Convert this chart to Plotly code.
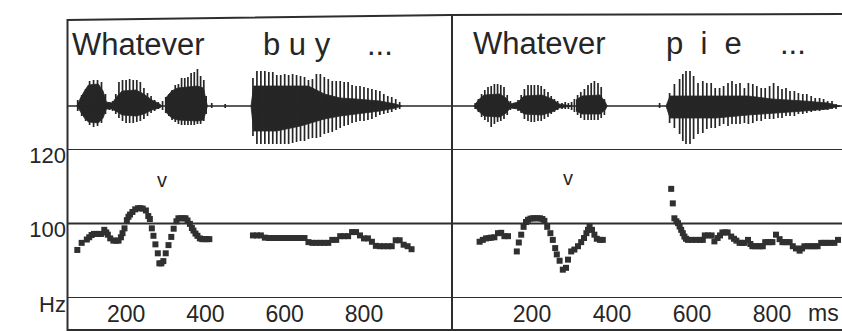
import plotly.graph_objects as go

W, H = 842, 331
INK = "#262626"
FONT = "Liberation Sans, Arial, sans-serif"

# ---------------- data ----------------
# Pitch track (ms, Hz) - left utterance "Whatever buy ..."
pitch_left_ms = [77, 88, 101, 107, 113, 119, 125, 131, 137, 145, 150, 154, 160, 168, 175, 181, 187, 191, 196,
                 202, 206, 210, 216, 223, 230, 236, 242, 250, 256, 260,
                 265, 269, 274, 280, 284, 289, 294, 300, 307, 314, 320, 327, 332, 338, 345, 350, 355, 361, 366,
                 370, 375, 380, 386, 392, 398, 404, 410,
                 520, 530, 540, 550, 560, 570, 580, 590, 600, 610, 620, 630, 640, 650, 660, 670, 680, 690, 700,
                 710, 720, 730, 740, 750, 760, 770, 780, 790, 800, 810, 820, 830, 840, 850, 860, 870, 880, 890,
                 900, 910, 920]
pitch_left_hz = [92.9, 94.8, 95.7, 96.3, 96.9, 97.2, 97.2, 97.2, 97.2, 98.3, 97.6, 97.0, 96.0, 95.4, 95.4, 95.4, 96.3, 97.4, 98.7,
                 100.9, 101.8, 102.4, 103.1, 103.8, 104.1, 104.1, 104.0, 103.5, 102.0, 101.2,
                 98.7, 96.7, 94.4, 92.0, 89.3, 89.3, 89.9, 92.0, 94.2, 96.4, 98.6, 100.6, 101.4, 101.4, 101.4, 101.4, 100.8, 99.9, 98.8,
                 98.1, 97.3, 96.7, 96.0, 95.8, 95.8, 95.8, 95.8,
                 96.8, 96.8, 96.8, 96.2, 96.1, 96.1, 96.1, 96.1, 96.1, 96.1, 96.1, 96.1, 96.1, 96.1, 95.0, 94.8, 94.8, 94.8, 94.8,
                 94.8, 95.6, 95.6, 96.6, 96.6, 96.6, 97.7, 97.7, 96.8, 96.0, 96.0, 95.1, 94.0, 93.9, 93.9, 93.9, 93.9, 95.5, 95.5, 94.3,
                 93.9, 93.1, 91.8]

# Pitch track (ms, Hz) - right utterance "Whatever pie ..."
pitch_right_ms = [69, 77, 85, 92, 98, 106, 115, 123, 131, 140,
                  162, 167, 173, 179, 185, 190, 196, 202, 208, 214, 220, 226, 231, 238, 246, 252, 258, 262, 269,
                  277, 285, 290, 298, 306, 315, 323, 330, 336, 340, 344, 350, 356, 362, 370, 377,
                  548, 552, 556, 561, 565, 569, 573, 577, 581, 585, 590, 600, 610, 620, 627, 632, 640, 649, 656,
                  664, 670, 676, 683, 689, 698, 705, 711, 719, 725, 731, 740, 746, 751, 758, 765, 772, 777, 783,
                  790, 796, 801, 810, 819, 826, 831, 838, 844, 852, 860, 869, 875, 881, 890, 898, 906, 914, 923,
                  930, 938, 946, 956, 965]
pitch_right_hz = [95.1, 95.6, 96.0, 96.1, 96.2, 96.3, 97.4, 97.5, 96.6, 96.6,
                  92.5, 94.9, 97.0, 99.1, 100.4, 101.0, 101.3, 101.4, 101.4, 101.4, 101.4, 101.2, 100.7, 99.1, 97.4, 95.6, 93.4, 91.7, 90.0,
                  87.6, 88.1, 90.3, 92.5, 93.0, 93.9, 95.0, 96.1, 97.4, 98.3, 99.2, 98.3, 97.0, 95.9, 95.6, 95.6,
                  109.3, 105.4, 101.4, 100.6, 100.1, 99.2, 98.3, 97.4, 96.5, 95.9, 95.6, 95.6, 95.6, 95.6, 95.6, 96.8, 96.8, 96.8, 95.2,
                  96.1, 96.8, 97.6, 97.6, 97.6, 96.5, 95.9, 95.4, 94.8, 94.8, 94.8, 95.6, 94.5, 93.9, 93.9, 93.9, 93.9, 93.9, 95.0,
                  95.0, 95.0, 95.0, 97.0, 95.8, 95.0, 95.0, 95.0, 95.0, 93.9, 93.3, 92.7, 93.3, 93.9, 93.9, 93.9, 93.9, 93.9, 94.8,
                  94.8, 94.8, 94.8, 94.8, 95.6]

# Waveform glottal pulses: time (ms), positive peak, negative peak (arbitrary amplitude units)
pulse_left_ms = [78, 88, 98, 108, 118, 128, 138, 148,
                 158, 166, 174, 182, 191, 200, 209, 218, 227, 236, 245, 254, 263, 272, 281,
                 292, 300, 308, 316, 324, 332, 340, 348, 356, 364, 372, 380, 388, 396, 402,
                 416, 450,
                 520, 530, 540, 550, 560, 570, 580, 590, 600, 610, 620, 630, 640, 650, 660, 670, 680, 690, 700,
                 710, 720, 730, 740, 750, 760, 770, 780, 790, 800, 810, 820, 830, 840, 850, 860, 870, 880, 890]
pulse_left_hi = [6, 11, 17, 25, 26, 26, 24, 12,
                 4, 5, 12, 24, 26, 26, 27, 26, 26, 24, 18, 13, 10, 6, 4,
                 5, 9, 12, 16, 21, 22, 28, 28, 29, 33, 34, 37, 30, 26, 10,
                 3, 2,
                 28, 35, 35, 35, 34, 34, 31, 31, 32, 31, 32, 31, 30, 29, 26, 27, 32, 32, 29,
                 27, 25, 25, 25, 24, 24, 21, 20, 20, 19, 18, 17, 16, 15, 12, 10, 9, 7, 4]
pulse_left_lo = [-5, -10, -15, -19, -21, -20, -17, -8,
                 -4, -5, -8, -12, -15, -17, -17, -17, -16, -15, -13, -10, -7, -5, -3,
                 -4, -7, -10, -14, -16, -18, -19, -19, -19, -19, -19, -18, -18, -15, -8,
                 -2, -2,
                 -30, -38, -38, -38, -38, -38, -38, -38, -38, -38, -37, -36, -35, -35, -33, -32, -32, -31, -28,
                 -27, -26, -24, -22, -20, -19, -17, -16, -15, -15, -14, -13, -11, -9, -8, -7, -6, -4, -3]

pulse_right_ms = [58, 66, 74, 82, 90, 98, 106, 114, 122, 130, 138, 146,
                  156, 165, 173, 181, 190, 198, 206, 215, 223, 231, 240, 248, 256, 264,
                  275, 283, 291, 299,
                  306, 314, 322, 331, 340, 348, 356, 365, 373, 381,
                  519,
                  544, 556, 569, 577, 585, 595, 604, 615, 627, 637, 648, 658, 669, 679, 690, 700, 710, 720, 731,
                  741, 752, 762, 773, 783, 794, 804, 815, 825, 835, 845, 856, 866, 877, 887, 898, 908, 919, 929,
                  939, 950, 960]
pulse_right_hi = [3, 7, 12, 16, 19, 20, 22, 22, 21, 19, 11, 5,
                  3, 6, 11, 17, 21, 21, 21, 21, 20, 17, 14, 10, 7, 5,
                  3, 4, 3, 4,
                  7, 11, 14, 17, 21, 23, 25, 23, 19, 7,
                  3,
                  13, 22, 27, 32, 35, 35, 30, 23, 25, 23, 23, 18, 18, 20, 23, 25, 22, 23, 18,
                  23, 22, 20, 18, 18, 20, 23, 20, 17, 18, 15, 15, 13, 12, 12, 10, 8, 8, 7,
                  5, 5, 2]
pulse_right_lo = [-3, -6, -11, -14, -16, -21, -18, -16, -15, -13, -9, -4,
                  -3, -5, -7, -13, -15, -16, -16, -15, -15, -13, -11, -8, -6, -4,
                  -3, -3, -3, -4,
                  -6, -9, -12, -14, -14, -14, -14, -14, -12, -9,
                  -2,
                  -17, -22, -28, -35, -38, -38, -33, -28, -27, -23, -22, -22, -20, -18, -20, -18, -18, -18, -17,
                  -18, -17, -15, -15, -13, -13, -13, -12, -12, -10, -10, -10, -8, -8, -7, -6, -5, -5, -4,
                  -4, -3, -3]

# Dense waveform core (envelope): time (ms), upper, lower
core_left_ms = [76, 85, 95, 105, 130, 142, 150, 165, 178, 190, 225, 245, 265, 285,
                290, 300, 315, 330, 380, 395, 402, 405,
                515, 522, 580, 640, 660, 700, 740, 780, 840, 880, 895]
core_left_hi = [0, 8, 15, 21, 22, 15, 4, 3, 10, 15, 16, 12, 6, 2,
                0, 8, 15, 18, 20, 18, 5, 0,
                0, 20, 20, 20, 20, 12, 8, 7, 5, 2, 0]
core_left_lo = [0, -6, -12, -16, -17, -12, -3, -3, -6, -9, -10, -8, -4, -2,
                0, -6, -12, -14, -15, -14, -5, 0,
                0, -25, -25, -20, -18, -13, -10, -8, -5, -2, 0]

core_right_ms = [55, 66, 80, 120, 135, 146, 165, 180, 225, 250, 268,
                 300, 310, 325, 370, 383, 388,
                 535, 545, 660, 740, 760, 800, 880, 940, 970]
core_right_hi = [0, 6, 11, 12, 8, 2, 4, 10, 11, 7, 2,
                 0, 6, 10, 11, 4, 0,
                 0, 10, 10, 10, 9, 7, 5, 3, 0]
core_right_lo = [0, -5, -10, -11, -7, -2, -3, -8, -9, -6, -2,
                 0, -5, -8, -8, -4, 0,
                 0, -12, -12, -9, -8, -7, -5, -3, 0]

tick_ms = [200, 400, 600, 800]
hz_ticks = [120, 100, 80]
hz_labels = ["120", "100", "Hz"]


# ---------------- helpers ----------------
def px(x):
    return x / W


def py(y):
    return 1 - y / H


def pulses(t, hi, lo):
    xs, ys = [], []
    for a, b, c in zip(t, hi, lo):
        xs += [a, a, None]
        ys += [c, b, None]
    return xs, ys


def core(t, hi, lo):
    xs, ys = [], []
    seg_t, seg_h, seg_l = [], [], []
    for a, b, c in zip(t, hi, lo):
        seg_t.append(a); seg_h.append(b); seg_l.append(c)
        if b == 0 and c == 0 and len(seg_t) > 1:
            xs += seg_t + seg_t[::-1] + [None]
            ys += seg_h + seg_l[::-1] + [None]
            seg_t, seg_h, seg_l = [], [], []
    if len(seg_t) > 1:
        xs += seg_t + seg_t[::-1] + [None]
        ys += seg_h + seg_l[::-1] + [None]
    return xs, ys


fig = go.Figure()

for xa, (pt, ph, pl), (ct, ch, cl) in [
    ("x", (pulse_left_ms, pulse_left_hi, pulse_left_lo), (core_left_ms, core_left_hi, core_left_lo)),
    ("x2", (pulse_right_ms, pulse_right_hi, pulse_right_lo), (core_right_ms, core_right_hi, core_right_lo)),
]:
    cx, cy = core(ct, ch, cl)
    fig.add_trace(go.Scatter(x=cx, y=cy, xaxis=xa, yaxis="y2", mode="lines", fill="toself",
                             fillcolor=INK, line=dict(color=INK, width=0.8), hoverinfo="skip"))
    sx, sy = pulses(pt, ph, pl)
    fig.add_trace(go.Scatter(x=sx, y=sy, xaxis=xa, yaxis="y2", mode="lines",
                             line=dict(color=INK, width=1.7), hoverinfo="skip"))

fig.add_trace(go.Scatter(x=pitch_left_ms, y=pitch_left_hz, xaxis="x", yaxis="y", mode="markers",
                         marker=dict(symbol="square", size=6, color="#303030", line=dict(width=0))))
fig.add_trace(go.Scatter(x=pitch_right_ms, y=pitch_right_hz, xaxis="x2", yaxis="y", mode="markers",
                         marker=dict(symbol="square", size=6, color="#303030", line=dict(width=0))))

axis_common = dict(showgrid=False, zeroline=False, showline=False, ticks="", automargin=False,
                   tickfont=dict(family=FONT, size=23, color=INK))

fig.update_layout(
    width=W, height=H, margin=dict(l=0, r=0, t=0, b=0, pad=0, autoexpand=False),
    paper_bgcolor="white", plot_bgcolor="rgba(0,0,0,0)", showlegend=False,
    xaxis=dict(domain=[px(67), px(452)], range=[51, 1022], anchor="y",
               tickvals=tick_ms, **axis_common),
    xaxis2=dict(domain=[px(452), 1], range=[0, 975], anchor="y",
                tickvals=tick_ms, **axis_common),
    yaxis=dict(domain=[py(298), py(149)], range=[80, 120], anchor="x",
               tickvals=hz_ticks, ticktext=hz_labels, ticklabelshift=6, automargin=False,
               showgrid=False, zeroline=False, showline=False, ticks="",
               tickfont=dict(family=FONT, size=22, color=INK)),
    yaxis2=dict(domain=[py(149), py(15)], range=[-43, 91], anchor="x", visible=False, automargin=False),
)

LINE = dict(color="#2e2e2e", width=2)
shapes = []
for v in hz_ticks:
    shapes.append(dict(type="line", xref="paper", yref="y", x0=px(67), x1=1, y0=v, y1=v, line=LINE))
shapes.append(dict(type="line", xref="paper", yref="y2", x0=px(67), x1=1, y0=0, y1=0,
                   line=dict(color=INK, width=1.5)))
shapes.append(dict(type="path", xref="paper", yref="paper",
                   path=f"M {px(67)},{py(20)} L {px(450)},{py(15)} L 1,{py(14)}", line=LINE))
shapes.append(dict(type="line", xref="paper", yref="paper", x0=px(67), x1=1, y0=py(330), y1=py(330), line=LINE))
shapes.append(dict(type="line", xref="paper", yref="paper", x0=px(67.5), x1=px(67.5), y0=py(19), y1=0, line=LINE))
shapes.append(dict(type="line", xref="paper", yref="paper", x0=px(452), x1=px(452), y0=py(14), y1=0, line=LINE))
fig.update_layout(shapes=shapes)


def note(text, x, y, size, xanchor="left"):
    fig.add_annotation(text=text, xref="paper", yref="paper", x=px(x), y=py(y),
                       xanchor=xanchor, yanchor="middle", showarrow=False,
                       font=dict(family=FONT, size=size, color=INK))


note("Whatever", 70, 44, 31)
note("b u y", 261, 44, 31)
note("...", 365, 44, 31)
note("Whatever", 471, 43, 31)
note("p\u00a0\u00a0i\u00a0\u00a0e", 664, 43, 31)
note("...", 778, 43, 31)
note("v", 162, 180, 20, "center")
note("v", 568, 178, 20, "center")
note("ms", 823, 313, 23, "center")

fig.write_html("out.html")
